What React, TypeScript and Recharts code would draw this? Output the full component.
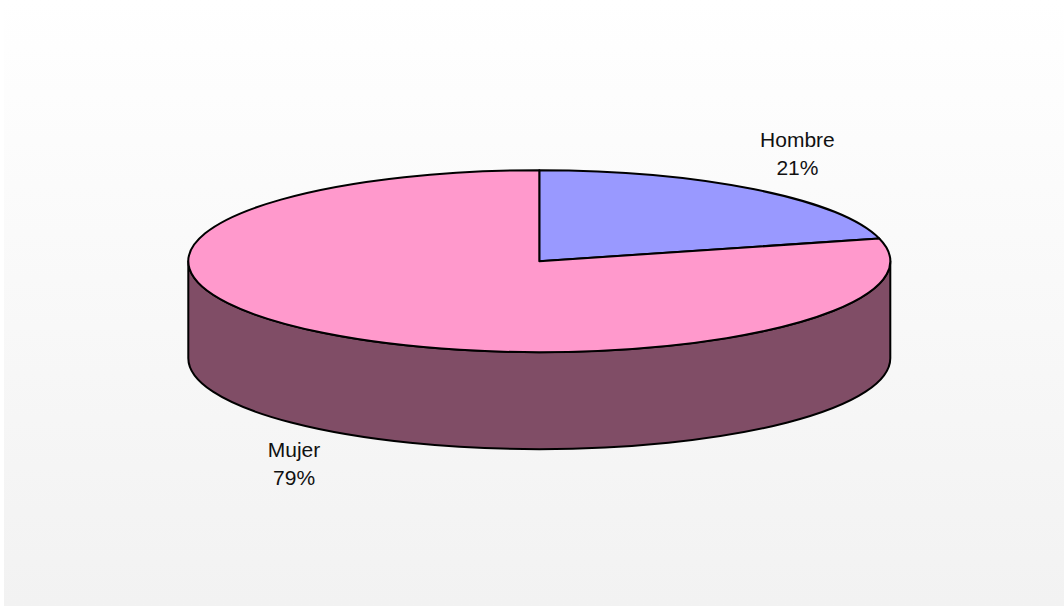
import { PieChart, Pie } from "recharts"

const categories = ["Hombre", "Mujer"]
const values = [21, 79]
const topColors = ["#9999FF", "#FF99CC"]
const wallColors = ["#4D4D80", "#804D66"]
// how far each label sits from the centre, as a share of the ellipse radii
const labelReach = [
  [1.2, 1.5],
  [1.14, 2.8],
]

const WIDTH = 1064
const HEIGHT = 607
const TILT = 91 / 351
const DEPTH = 97

const chartData = categories.map((name, i) => ({ name, value: values[i], index: i }))

function EllipseSlice(props: any) {
  const { cx, cy, outerRadius, startAngle, endAngle } = props
  const rx = outerRadius
  const ry = outerRadius * TILT
  const point = (deg: number, dy = 0) => {
    const rad = (deg * Math.PI) / 180
    return [cx + rx * Math.cos(rad), cy - ry * Math.sin(rad) + dy]
  }
  const [sx, sy] = point(startAngle)
  const [ex, ey] = point(endAngle)
  const large = Math.abs(startAngle - endAngle) > 180 ? 1 : 0
  const idx = chartData.findIndex((d) => d.name === props.name)

  // side wall only shows on the front half of the rim
  const wallStart = Math.min(startAngle, 0)
  const wallEnd = Math.max(endAngle, -180)
  const hasWall = wallStart > wallEnd
  const [ax, ay] = point(wallStart)
  const [bx, by] = point(wallEnd)

  return (
    <g>
      {hasWall && (
        <path
          d={`M${ax},${ay} A${rx},${ry} 0 0 1 ${bx},${by} L${bx},${by + DEPTH} A${rx},${ry} 0 0 0 ${ax},${ay + DEPTH} Z`}
          fill={wallColors[idx]}
          stroke="#000"
          strokeWidth={2}
          strokeLinejoin="round"
        />
      )}
      <path
        d={`M${cx},${cy} L${sx},${sy} A${rx},${ry} 0 ${large} 1 ${ex},${ey} Z`}
        fill={topColors[idx]}
        stroke="#000"
        strokeWidth={2}
        strokeLinejoin="round"
      />
    </g>
  )
}

function renderLabel(props: any) {
  const { cx, cy, midAngle, outerRadius, name, value } = props
  const idx = categories.indexOf(name)
  const rad = (midAngle * Math.PI) / 180
  const x = cx + outerRadius * labelReach[idx][0] * Math.cos(rad)
  const y = cy - outerRadius * TILT * labelReach[idx][1] * Math.sin(rad)
  return (
    <text x={x} y={y} textAnchor="middle" fontFamily="'Liberation Sans', Arial, sans-serif" fontSize={21} fill="#111">
      <tspan x={x} dy={-6}>{name}</tspan>
      <tspan x={x} dy={28}>{`${value}%`}</tspan>
    </text>
  )
}

export default function App() {
  return (
    <div style={{ position: "absolute", left: 0, top: 0, width: WIDTH, height: HEIGHT, background: "#fff", overflow: "hidden" }}>
      <div style={{ position: "absolute", left: 4, top: 0, right: 0, bottom: 1, background: "linear-gradient(#ffffff, #f2f2f2)" }} />
      <div style={{ position: "absolute", left: 0, top: 0 }}>
        <PieChart width={WIDTH} height={HEIGHT} margin={{ top: 0, right: 0, bottom: 0, left: 0 }}>
          <Pie
            data={chartData}
            dataKey="value"
            nameKey="name"
            cx={539.3}
            cy={261.2}
            innerRadius={0}
            outerRadius={351}
            startAngle={90}
            endAngle={-270}
            paddingAngle={0}
            shape={EllipseSlice}
            label={renderLabel}
            labelLine={false}
            isAnimationActive={false}
            rootTabIndex={-1}
          />
        </PieChart>
      </div>
    </div>
  )
}
